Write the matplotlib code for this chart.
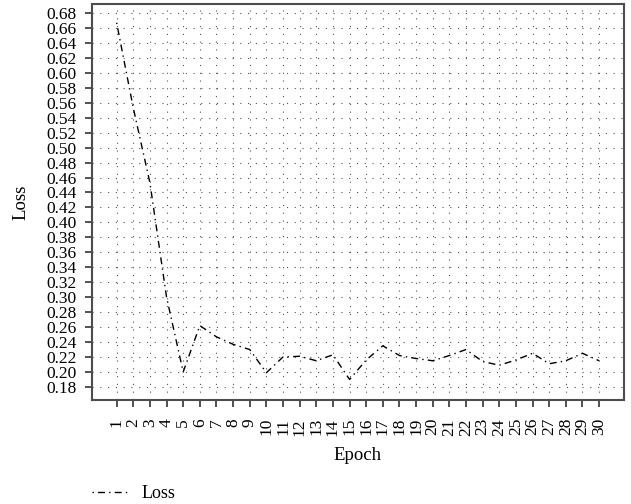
import numpy as np
import matplotlib
matplotlib.use('Agg')
import matplotlib.pyplot as plt

# loss per epoch
epochs = list(range(1, 31))
loss = [0.667, 0.553, 0.453, 0.300, 0.200, 0.262, 0.247, 0.237, 0.230, 0.199,
        0.220, 0.221, 0.215, 0.223, 0.190, 0.216, 0.235, 0.222, 0.218, 0.215,
        0.222, 0.230, 0.214, 0.209, 0.216, 0.225, 0.211, 0.215, 0.225, 0.215]
yticks = np.round(np.arange(0.18, 0.681, 0.02), 2)

plt.rcParams['font.family'] = ['Liberation Serif', 'DejaVu Serif']

fig = plt.figure(figsize=(6.31, 5.04), dpi=100)
ax = fig.add_axes([0.1453, 0.2063, 0.8437, 0.7857])

# dash pattern starts on the dot, like the reference legend key
line, = ax.plot(epochs, loss, color='black', lw=1.0,
                linestyle=(8, (5, 3, 1, 3)), label='Loss')

ax.set_xlim(-0.5, 31.5)
ax.set_ylim(0.1625, 0.692)
ax.set_xticks(epochs)
ax.set_xticklabels([str(e) for e in epochs], rotation=90, fontsize=12.5)
ax.set_yticks(yticks)
ax.set_yticklabels(['%.2f' % v for v in yticks], fontsize=12.5)

# dotted grid at every tick
ax.grid(True, color='#555555', lw=0.8, linestyle=(0, (1, 6)))
ax.set_axisbelow(True)

for s in ax.spines.values():
    s.set_color('#4d4d4d')
    s.set_linewidth(1.5)
ax.tick_params(direction='out', length=5, width=1.2, color='#333333')
ax.tick_params(axis='x', pad=8)
ax.tick_params(axis='y', pad=6)

ax.set_xlabel('Epoch', fontsize=13.5)
ax.xaxis.set_label_coords(0.5, -0.139)
ax.xaxis.label.set_verticalalignment('center')
ax.set_ylabel('Loss', fontsize=13.5)
ax.yaxis.set_label_coords(-0.133, 0.5)
ax.yaxis.label.set_verticalalignment('center')

fig.legend(handles=[line], loc='center left', bbox_to_anchor=(92 / 631, 10 / 504),
           frameon=False, fontsize=13, handlelength=1.95, handletextpad=0.8,
           borderpad=0, borderaxespad=0)

fig.savefig('out.png', dpi=100)
